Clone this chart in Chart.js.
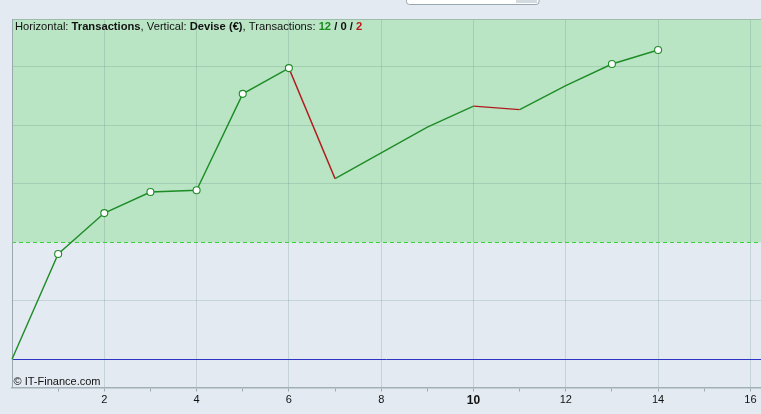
<!DOCTYPE html>
<html>
<head>
<meta charset="utf-8">
<script src="https://cdn.jsdelivr.net/npm/chart.js@4/dist/chart.umd.min.js"></script>
<style>
html,body{margin:0;padding:0;background:#e3eaf1;}
#wrap{position:relative;width:761px;height:414px;}
</style>
</head>
<body>
<div id="wrap"><canvas id="c" width="761" height="414"></canvas></div>
<script>
// ---- data ----
const transactions = [0,1,2,3,4,5,6,7,8,9,10,11,12,13,14];
const equity = [0,180,250,286,289,454,498,309,353,397,433,427,468,505,529];
const markedPoints = [1,2,3,4,5,6,13,14];
const xTickLabels = [2,4,6,8,10,12,14,16];
const yGridValues = [0,100,200,300,400,500];
const targetLevel = 200;
const countWin = 12, countFlat = 0, countLoss = 2;

const GREEN = '#1e8c26', RED = '#b01c1c';
const FONT = '"Liberation Sans", Arial, sans-serif';

const bgPlugin = {
  id:'bg',
  beforeDraw(chart){
    const {ctx, chartArea:a, scales:{y}} = chart;
    ctx.save();
    ctx.fillStyle = '#e3eaf1';
    ctx.fillRect(0,0,chart.width,chart.height);
    const ty = y.getPixelForValue(targetLevel);
    ctx.fillStyle = '#b9e5c5';
    ctx.fillRect(a.left, a.top, chart.width-a.left, ty-a.top);
    // top widget
    ctx.fillStyle = '#ffffff';
    ctx.strokeStyle = '#9aa6ae';
    ctx.lineWidth = 1;
    ctx.beginPath();
    ctx.roundRect(406.5,-6,132.5,10.5,3);
    ctx.fill(); ctx.stroke();
    ctx.fillStyle = '#d3dbe1';
    ctx.fillRect(516,-2,21,5);
    ctx.restore();
  },
  beforeDatasetsDraw(chart){
    const {ctx, chartArea:a, scales:{y}} = chart;
    ctx.save();
    const ty = Math.round(y.getPixelForValue(targetLevel))+0.5;
    ctx.strokeStyle = '#3ad23a';
    ctx.lineWidth = 1;
    ctx.setLineDash([4,3]);
    ctx.beginPath(); ctx.moveTo(a.left,ty); ctx.lineTo(chart.width,ty); ctx.stroke();
    ctx.setLineDash([]);
    const zy = Math.round(y.getPixelForValue(0))+0.5;
    ctx.strokeStyle = '#3034c4';
    ctx.beginPath(); ctx.moveTo(a.left,zy); ctx.lineTo(chart.width,zy); ctx.stroke();
    // borders
    ctx.strokeStyle = '#9dbcaa';
    ctx.beginPath(); ctx.moveTo(a.left, a.top+0.5); ctx.lineTo(chart.width, a.top+0.5); ctx.stroke();
    ctx.strokeStyle = '#98a8ae';
    ctx.beginPath(); ctx.moveTo(a.left+0.5, a.top); ctx.lineTo(a.left+0.5, a.bottom); ctx.stroke();
    ctx.restore();
  },
  afterDraw(chart){
    const {ctx, chartArea:a} = chart;
    ctx.save();
    ctx.textBaseline = 'alphabetic';
    const parts = [
      ['Horizontal: ', false, '#111'],
      ['Transactions', true, '#111'],
      [', Vertical: ', false, '#111'],
      ['Devise (€)', true, '#111'],
      [', Transactions: ', false, '#111'],
      [String(countWin), true, '#1c8a1c'],
      [' / ', true, '#111'],
      [String(countFlat), true, '#111'],
      [' / ', true, '#111'],
      [String(countLoss), true, '#c01818'],
    ];
    let x = a.left + 3;
    for (const [t,b,c] of parts){
      ctx.font = (b?'bold ':'') + '11.2px ' + FONT;
      ctx.fillStyle = c;
      ctx.fillText(t, x, 29.5);
      x += ctx.measureText(t).width;
    }
    ctx.font = '11px ' + FONT;
    ctx.fillStyle = '#111';
    ctx.fillText('© IT-Finance.com', a.left+1.5, 385);
    ctx.restore();
  }
};

new Chart(document.getElementById('c'), {
  type:'line',
  data:{
    labels: transactions,
    datasets:[{
      data: transactions.map((t,i)=>({x:t, y:equity[i]})),
      borderColor: GREEN,
      borderWidth: 1.4,
      fill:false,
      tension:0,
      segment:{
        borderColor: c => c.p1.parsed.y < c.p0.parsed.y ? RED : GREEN
      },
      pointRadius: c => markedPoints.includes(c.dataIndex) ? 3.5 : 0,
      pointBackgroundColor:'#ffffff',
      pointBorderColor: GREEN,
      pointBorderWidth: 1.1,
      pointHoverRadius: 0,
      clip: false
    }]
  },
  options:{
    responsive:false,
    animation:false,
    devicePixelRatio:1,
    layout:{autoPadding:false, padding:{left:12, top:19, right:0, bottom:0}},
    plugins:{legend:{display:false}, tooltip:{enabled:false}},
    scales:{
      x:{
        type:'linear',
        min:0, max:16.23,
        afterBuildTicks: s => { s.ticks = []; for(let v=1; v<=16; v++) s.ticks.push({value:v}); },
        afterFit: s => { s.height = 26.5; s.paddingRight = 0; s.paddingLeft = 0; },
        grid:{
          color: c => (c.tick && c.tick.value % 2 === 0) ? 'rgba(70,105,100,0.19)' : 'rgba(0,0,0,0)',
          tickColor:'#9eaab2',
          tickLength:4,
          lineWidth:1
        },
        border:{display:true, color:'#a3afb7', width:1.5},
        ticks:{
          autoSkip:false,
          maxRotation:0,
          padding:2,
          color:'#111',
          font: c => ({family:FONT, size: (c.tick && c.tick.value===10) ? 12 : 11, weight: (c.tick && c.tick.value===10) ? 'bold' : 'normal'}),
          callback: v => xTickLabels.includes(v) ? String(v) : ''
        }
      },
      y:{
        type:'linear',
        min:-48.3, max:582,
        afterBuildTicks: s => { s.ticks = yGridValues.map(v=>({value:v})); },
        afterFit: s => { s.width = 0; s.paddingTop = 0; s.paddingBottom = 0; },
        grid:{
          color: c => (c.tick && (c.tick.value===0 || c.tick.value===targetLevel)) ? 'rgba(0,0,0,0)' : 'rgba(70,105,100,0.19)',
          drawTicks:false,
          lineWidth:1
        },
        border:{display:false},
        ticks:{display:false}
      }
    }
  },
  plugins:[bgPlugin]
});
</script>
</body>
</html>
